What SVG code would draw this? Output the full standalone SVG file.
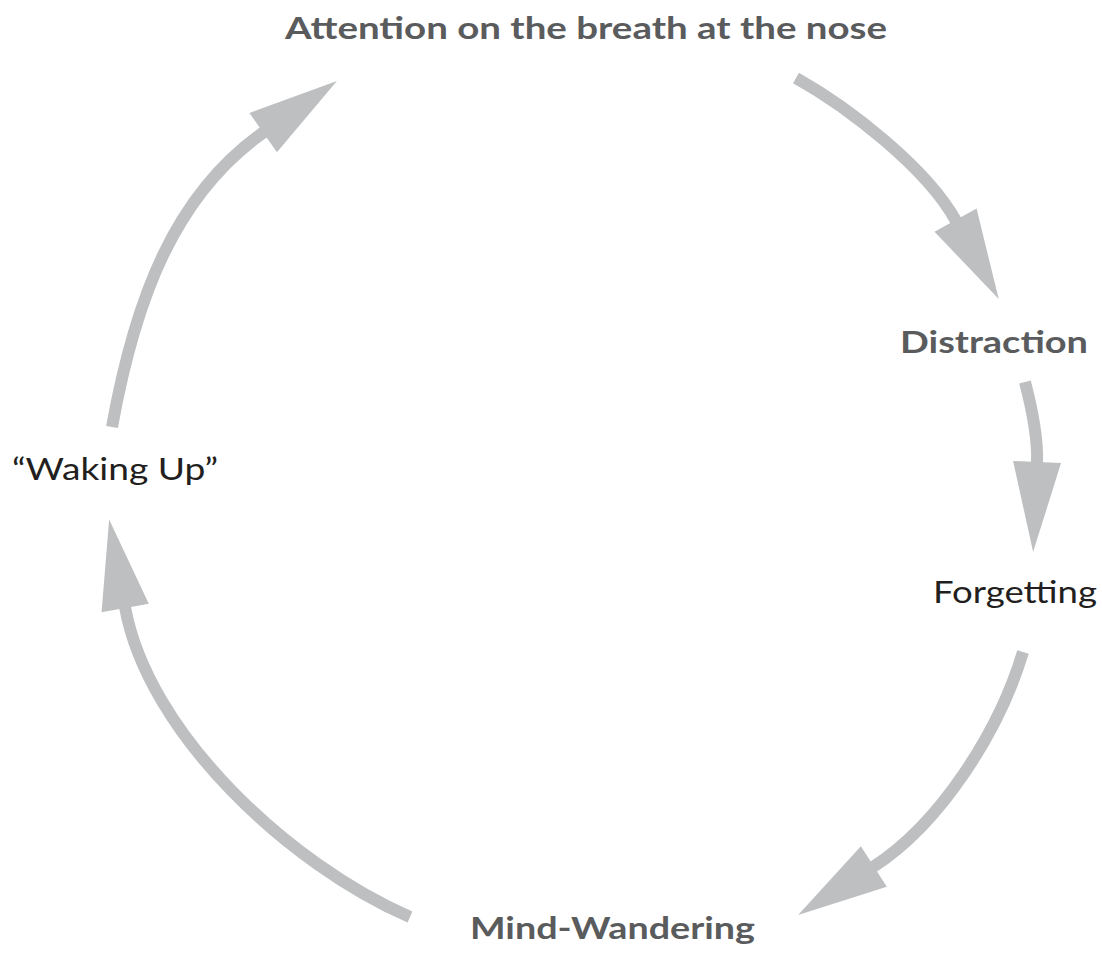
<svg xmlns="http://www.w3.org/2000/svg" width="1102" height="954" viewBox="0 0 1102 954">
  <style>
    .bg { fill: #ffffff; }
    .arc { fill: none; stroke: #bdbfc1; stroke-width: 12; stroke-linecap: butt; }
    .head { fill: #bdbfc1; }
    .lbl { font-family: Lato, "Open Sans", "Liberation Sans", sans-serif; font-size: 30px; }
    .bold { font-weight: 700; fill: #5a5b5d; }
    .reg { font-weight: 400; fill: #231f20; }
  </style>
  <defs>
    <marker id="ah" markerUnits="userSpaceOnUse" markerWidth="90" markerHeight="48" viewBox="0 0 90 48" refX="1" refY="24" orient="auto" overflow="visible">
      <path class="head" d="M0,0 L90,24 L0,48 Z"/>
    </marker>
  </defs>
  <rect class="bg" x="0" y="0" width="1102" height="954"/>

  <g id="connectors">
    <path class="arc" marker-end="url(#ah)" d="M796,78 C848,107 927,168 956,221"/>
    <path class="arc" marker-end="url(#ah)" d="M1025,382 C1031,405 1038,440 1037,463"/>
    <path class="arc" marker-end="url(#ah)" d="M1023,652 C999,732 940,824 873,867"/>
    <path class="arc" marker-end="url(#ah)" d="M410,917 C290,865 148,734 125,607"/>
    <path class="arc" marker-end="url(#ah)" d="M112,427 C135,300 174,195 264,132"/>
  </g>

  <g id="node-attention">
    <text class="lbl bold" x="285" y="38.5" textLength="602" lengthAdjust="spacingAndGlyphs">Attention on the breath at the nose</text>
  </g>
  <g id="node-distraction">
    <text class="lbl bold" x="900" y="353" textLength="188" lengthAdjust="spacingAndGlyphs">Distraction</text>
  </g>
  <g id="node-forgetting">
    <text class="lbl reg" x="933" y="603" textLength="164" lengthAdjust="spacingAndGlyphs">Forgetting</text>
  </g>
  <g id="node-mind-wandering">
    <text class="lbl bold" x="470" y="939" textLength="285" lengthAdjust="spacingAndGlyphs">Mind-Wandering</text>
  </g>
  <g id="node-waking-up">
    <text class="lbl reg" x="12" y="480" textLength="206" lengthAdjust="spacingAndGlyphs">“Waking Up”</text>
  </g>
</svg>
